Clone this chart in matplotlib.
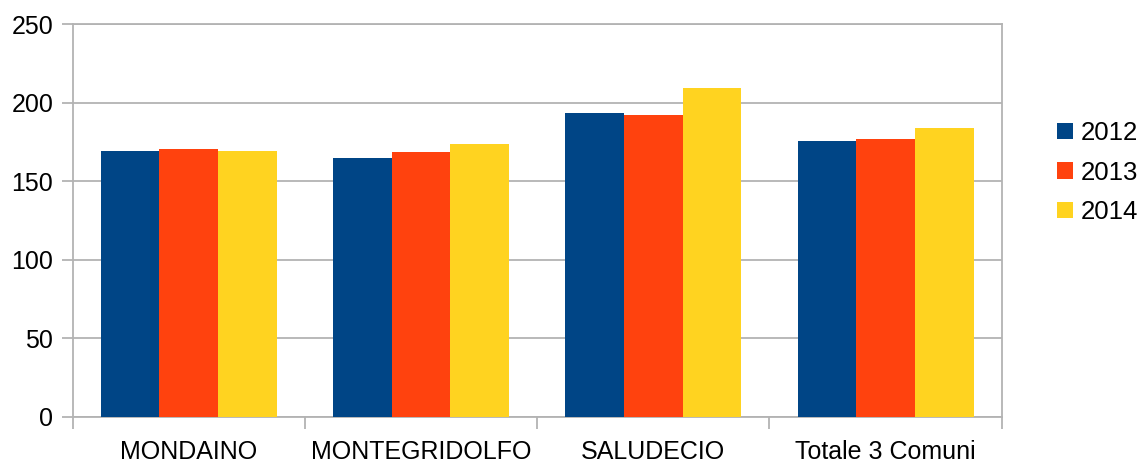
import matplotlib
matplotlib.use("Agg")
import matplotlib.pyplot as plt
import numpy as np

categories = ["MONDAINO", "MONTEGRIDOLFO", "SALUDECIO", "Totale 3 Comuni"]
series_names = ["2012", "2013", "2014"]
values_2012 = [169.2, 164.7, 193.3, 175.5]
values_2013 = [170.4, 168.5, 192.1, 176.8]
values_2014 = [169.2, 173.6, 209.3, 183.8]
colors = ["#004586", "#ff420e", "#ffd320"]
yticks = [0, 50, 100, 150, 200, 250]

plt.rcParams['font.family'] = ['Liberation Sans', 'DejaVu Sans']

fig = plt.figure(figsize=(11.42, 4.63), dpi=100)
ax = fig.add_axes([72.7 / 1142, 1 - 416.7 / 463, (1001.7 - 72.7) / 1142, (416.7 - 24) / 463])

x = np.arange(len(categories))
w = 0.2527
for i, (vals, name) in enumerate(zip([values_2012, values_2013, values_2014], series_names)):
    ax.bar(x + (i - 1) * w, vals, width=w, color=colors[i], label=name, zorder=3, linewidth=0)

ax.set_xlim(-0.5, len(categories) - 0.5)
ax.set_ylim(0, 250)
ax.set_yticks(yticks)
ax.set_yticklabels([str(t) for t in yticks], fontsize=18)
ax.set_xticks(x)
ax.set_xticklabels(categories, fontsize=18)
ax.set_xticks(np.arange(len(categories) + 1) - 0.5, minor=True)
ax.tick_params(axis='x', which='major', length=0, pad=16.5)
ax.tick_params(axis='x', which='minor', length=8.5, color='#b3b3b3', width=1.3)
ax.tick_params(axis='y', which='major', length=8, color='#b3b3b3', width=1.3, pad=6)

ax.yaxis.grid(True, color='#b3b3b3', linewidth=1.3, zorder=0)
ax.set_axisbelow(True)
for side in ['left', 'right', 'top', 'bottom']:
    ax.spines[side].set_color('#b3b3b3')
    ax.spines[side].set_linewidth(1.3)

leg = fig.legend(loc='center left', bbox_to_anchor=(1057 / 1142, 1 - 172.5 / 463),
                 frameon=False, fontsize=18.5, handlelength=0.62, handleheight=0.62,
                 handletextpad=0.32, labelspacing=0.6, borderpad=0, borderaxespad=0)

fig.savefig("out.png", dpi=100)
